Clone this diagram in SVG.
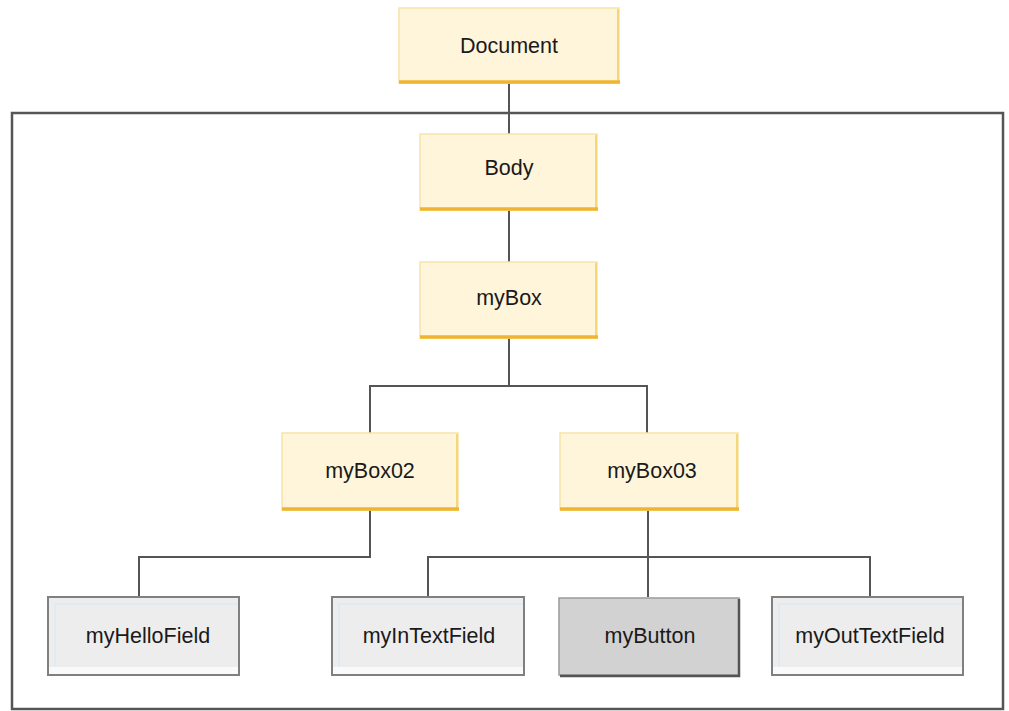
<svg xmlns="http://www.w3.org/2000/svg" width="1009" height="711" viewBox="0 0 1009 711">
<style>
.yb{fill:#fff5da;stroke:#f6e3a6;stroke-width:1.5}
.yb-b{fill:none;stroke:#f0b530;stroke-width:3.5}
.yb-r{fill:none;stroke:#f5d67a;stroke-width:2}
.tf{fill:#ededed;stroke:#808080;stroke-width:2}
.tf-in{fill:none;stroke:#dde9f2;stroke-width:1.5}
.tf-bot{fill:#fafafa}
.btn{fill:#d2d2d2;stroke:#9a9a9a;stroke-width:1.5}
.btn-sh{fill:none;stroke:#555;stroke-width:2.5}
.lbl{font-family:"Liberation Sans",Arial,sans-serif;font-size:21.5px;fill:#1a1a1a;text-anchor:middle}
.conn{fill:none;stroke:#555;stroke-width:2}
</style>
<rect x="12" y="113" width="991" height="596" fill="none" stroke="#555" stroke-width="2.5"/>
<g id="connectors">
<path class="conn" d="M509 83V134"/>
<path class="conn" d="M509 210V262"/>
<path class="conn" d="M509 338V386H370V433M509 386H647V433"/>
<path class="conn" d="M370 510V557H139V597"/>
<path class="conn" d="M648 510V597M428 597V557H870V597"/>
</g>
<g id="n-document">
<rect class="yb" x="399" y="8" width="220" height="75"/>
<path class="yb-r" d="M618 9V82"/>
<path class="yb-b" d="M399 82H620"/>
<text class="lbl" x="509" y="53">Document</text>
</g>
<g id="n-body">
<rect class="yb" x="420" y="134" width="177" height="76"/>
<path class="yb-r" d="M596 135V209"/>
<path class="yb-b" d="M420 209H598"/>
<text class="lbl" x="509" y="175">Body</text>
</g>
<g id="n-mybox">
<rect class="yb" x="420" y="262" width="177" height="76"/>
<path class="yb-r" d="M596 263V337"/>
<path class="yb-b" d="M420 337H598"/>
<text class="lbl" x="509" y="305">myBox</text>
</g>
<g id="n-mybox02">
<rect class="yb" x="282" y="433" width="176" height="77"/>
<path class="yb-r" d="M457 434V509"/>
<path class="yb-b" d="M282 509H459"/>
<text class="lbl" x="370" y="478">myBox02</text>
</g>
<g id="n-mybox03">
<rect class="yb" x="560" y="433" width="178" height="77"/>
<path class="yb-r" d="M737 434V509"/>
<path class="yb-b" d="M560 509H739"/>
<text class="lbl" x="652" y="478">myBox03</text>
</g>
<g id="n-myhellofield">
<rect class="tf" x="48" y="597" width="191" height="78"/>
<rect class="tf-bot" x="49" y="667" width="189" height="7"/>
<path class="tf-in" d="M55 666V604H238"/>
<text class="lbl" x="148" y="643">myHelloField</text>
</g>
<g id="n-myintextfield">
<rect class="tf" x="332" y="597" width="192" height="78"/>
<rect class="tf-bot" x="333" y="667" width="190" height="7"/>
<path class="tf-in" d="M339 666V604H523"/>
<text class="lbl" x="429" y="643">myInTextField</text>
</g>
<g id="n-mybutton">
<rect class="btn" x="559" y="598" width="180" height="77"/>
<path class="btn-sh" d="M739 599V676H560"/>
<text class="lbl" x="650" y="643">myButton</text>
</g>
<g id="n-myouttextfield">
<rect class="tf" x="772" y="597" width="191" height="78"/>
<rect class="tf-bot" x="773" y="667" width="189" height="7"/>
<path class="tf-in" d="M779 666V604H962"/>
<text class="lbl" x="870" y="643">myOutTextField</text>
</g>
</svg>
